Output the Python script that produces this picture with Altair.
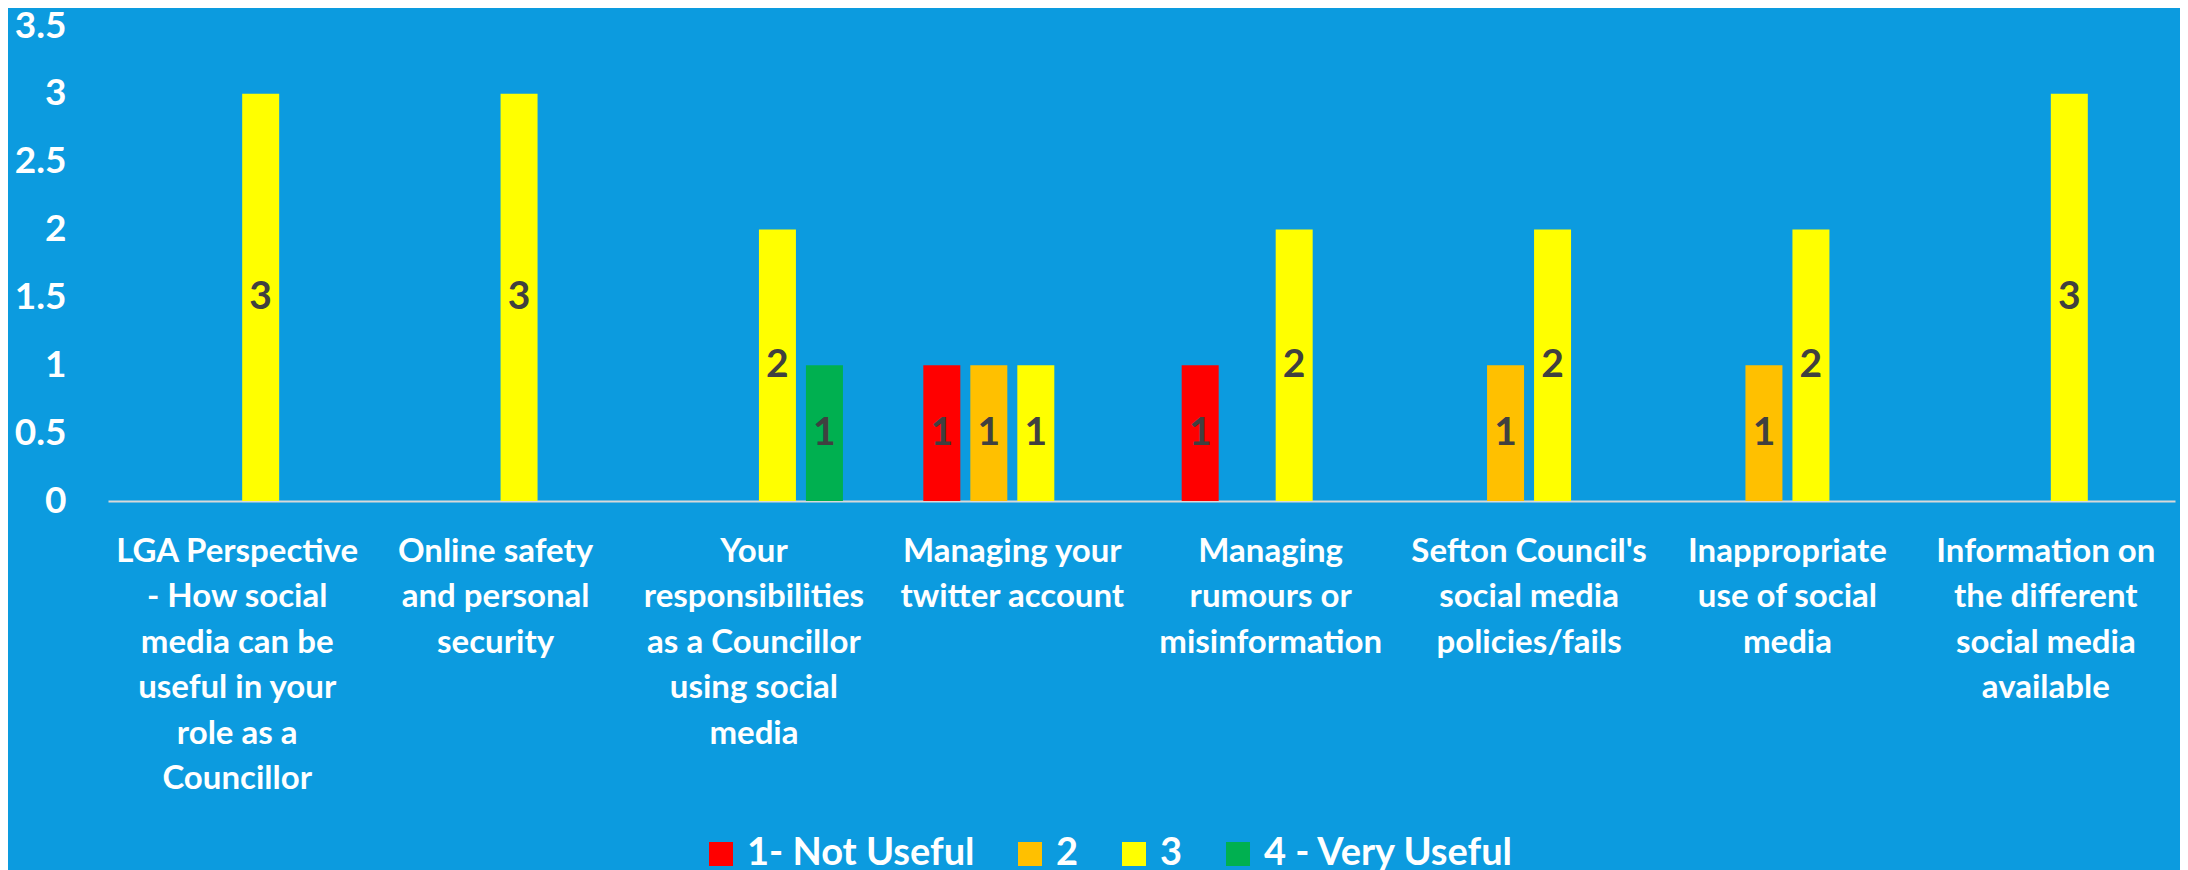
import altair as alt
import pandas as pd

categories = [
    "LGA Perspective\n- How social\nmedia can be\nuseful in your\nrole as a\nCouncillor",
    "Online safety\nand personal\nsecurity",
    "Your\nresponsibilities\nas a Councillor\nusing social\nmedia",
    "Managing your\ntwitter account",
    "Managing\nrumours or\nmisinformation",
    "Sefton Council's\nsocial media\npolicies/fails",
    "Inappropriate\nuse of social\nmedia",
    "Information on\nthe different\nsocial media\navailable",
]
series = ["1- Not Useful", "2", "3", "4 - Very Useful"]
colors = ["#FF0000", "#FFC000", "#FFFF00", "#00B050"]

not_useful = [0, 0, 0, 1, 1, 0, 0, 0]
rating_2 = [0, 0, 0, 1, 0, 1, 1, 0]
rating_3 = [3, 3, 2, 1, 2, 2, 2, 3]
very_useful = [0, 0, 1, 0, 0, 0, 0, 0]

y_ticks = [0, 0.5, 1, 1.5, 2, 2.5, 3, 3.5]

rows = []
for s, vals in zip(series, [not_useful, rating_2, rating_3, very_useful]):
    for c, v in zip(categories, vals):
        if v > 0:
            rows.append({"category": c, "series": s, "value": v})
df = pd.DataFrame(rows)

BG = "#0C9BDF"
FONT = "Lato"

x_enc = alt.X(
    "category:N",
    sort=categories,
    scale=alt.Scale(domain=categories, paddingInner=0.2724, paddingOuter=0.1362),
    axis=alt.Axis(
        title=None,
        labelAngle=0,
        labelExpr="split(datum.label, '\\n')",
        labelFont=FONT,
        labelFontWeight="bold",
        labelFontSize=33,
        labelColor="white",
        labelLineHeight=45.5,
        labelBaseline="top",
        labelPadding=34,
        labelLimit=400,
        ticks=False,
        domainColor="#D9D9D9",
        domainWidth=2,
        grid=False,
    ),
)
xoff = alt.XOffset(
    "series:N",
    scale=alt.Scale(domain=series, paddingInner=0.2128, paddingOuter=0.1064),
)

bars = alt.Chart(df).mark_bar().encode(
    x=x_enc,
    xOffset=xoff,
    y=alt.Y(
        "value:Q",
        scale=alt.Scale(domain=[0, 3.5], nice=False),
        axis=alt.Axis(
            title=None,
            values=y_ticks,
            format="~g",
            labelFont=FONT,
            labelFontWeight="bold",
            labelFontSize=37,
            labelColor="white",
            labelPadding=42,
            ticks=False,
            domain=False,
            grid=False,
        ),
    ),
    color=alt.Color(
        "series:N",
        scale=alt.Scale(domain=series, range=colors),
        legend=alt.Legend(
            title=None,
            orient="none",
            direction="horizontal",
            columns=4,
            legendX=594,
            legendY=809,
            padding=0,
            symbolType="square",
            symbolSize=576,
            symbolStrokeWidth=0,
            labelFont=FONT,
            labelFontWeight="bold",
            labelFontSize=38,
            labelColor="white",
            labelOffset=7,
            columnPadding=36,
            labelLimit=500,
        ),
    ),
)

labels = alt.Chart(df).transform_calculate(mid="datum.value / 2").mark_text(
    font=FONT, fontWeight="bold", fontSize=39, color="#404040", baseline="middle", align="center"
).encode(
    x=alt.X("category:N", sort=categories),
    xOffset=alt.XOffset("series:N"),
    y=alt.Y("mid:Q"),
    text=alt.Text("value:Q"),
)

chart = (
    alt.layer(bars, labels)
    .properties(
        width=2067,
        height=475,
        autosize=alt.AutoSizeParams(type="none"),
        padding={"left": 100, "top": 18, "right": 5, "bottom": 369},
        background=BG,
    )
    .configure_view(stroke=None)
)

chart.save("out.html", embed_options={"renderer": "svg", "actions": False})
